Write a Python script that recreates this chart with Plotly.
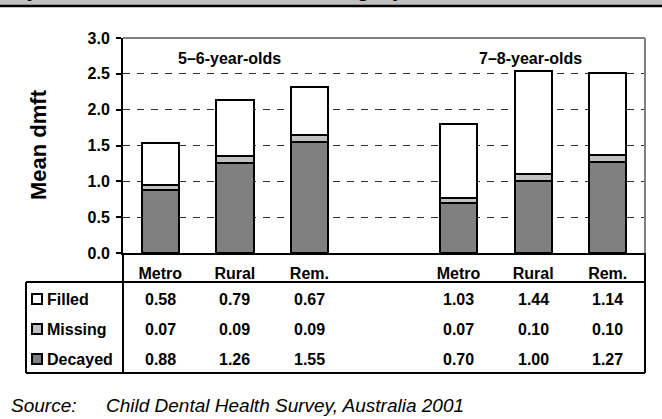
import plotly.graph_objects as go

# ---- data ----
groups = ["5–6-year-olds", "7–8-year-olds"]
locations = ["Metro", "Rural", "Rem."]
filled = [0.58, 0.79, 0.67, 1.03, 1.44, 1.14]
missing = [0.07, 0.09, 0.09, 0.07, 0.10, 0.10]
decayed = [0.88, 1.26, 1.55, 0.70, 1.00, 1.27]
series_names = ["Filled", "Missing", "Decayed"]
series_vals = [filled, missing, decayed]
series_colors = ["#ffffff", "#c0c0c0", "#808080"]
y_ticks = [0.0, 0.5, 1.0, 1.5, 2.0, 2.5, 3.0]
source_label = "Source:"
source_text = "Child Dental Health Survey, Australia 2001"
title_text = "Mean dmft by tooth status and location category"

# x index: each age group gets 3 slots, with an empty slot between groups
xs = [g * (len(locations) + 1) + i for g in range(len(groups)) for i in range(len(locations))]
tick_text = locations * len(groups)

FW, FH = 662, 419
L, R, T, B = 123, 645, 38, 253
W, H = R - L, B - T


def px(x):
    return (x - L) / W


def py(y):
    return (B - y) / H


FONT = "Liberation Sans, Arial, Helvetica, sans-serif"
BOLD = dict(family=FONT, size=16, color="black", weight="bold")

fig = go.Figure()
# stack order bottom -> top: Decayed, Missing, Filled
for name, vals, col in reversed(list(zip(series_names, series_vals, series_colors))):
    fig.add_trace(go.Bar(
        x=xs, y=vals, name=name, width=0.5,
        marker=dict(color=col, line=dict(color="black", width=2)),
        showlegend=False, hoverinfo="skip",
    ))

shapes = []
ann = []

# top gray band + black rule
shapes.append(dict(type="rect", xref="paper", yref="paper", x0=px(0), x1=px(FW), y0=py(-5), y1=py(5),
                   fillcolor="#c0c0c0", line=dict(width=0), layer="below"))
shapes.append(dict(type="line", xref="paper", yref="paper", x0=px(0), x1=px(FW), y0=py(6), y1=py(6),
                   line=dict(color="black", width=2.5)))
ann.append(dict(text=title_text, xref="paper", yref="paper", x=px(407), y=py(3),
                xanchor="right", yanchor="bottom", showarrow=False,
                font=dict(family=FONT, size=22, color="black", weight="bold")))

# plot border (gray top/right)
shapes.append(dict(type="line", xref="paper", yref="paper", x0=px(L), x1=px(R), y0=py(T), y1=py(T),
                   line=dict(color="#808080", width=2)))
shapes.append(dict(type="line", xref="paper", yref="paper", x0=px(R), x1=px(R), y0=py(T), y1=py(B),
                   line=dict(color="#808080", width=2)))

# data table lines
TBL_L, TBL_HDR, TBL_B = 26, 282, 373
for (x0, y0, x1, y1) in [
    (L, B, L, TBL_B),
    (R, B, R, TBL_B),
    (TBL_L, TBL_HDR, TBL_L, TBL_B),
    (TBL_L, TBL_HDR, R, TBL_HDR),
    (TBL_L, TBL_B, R, TBL_B),
]:
    shapes.append(dict(type="line", xref="paper", yref="paper", x0=px(x0), x1=px(x1),
                       y0=py(y0), y1=py(y1), line=dict(color="black", width=2)))

row_y = [299, 329, 359]
for name, vals, col, ry in zip(series_names, series_vals, series_colors, row_y):
    shapes.append(dict(type="rect", xref="paper", yref="paper", x0=px(32), x1=px(42),
                       y0=py(ry - 5), y1=py(ry + 5), fillcolor=col,
                       line=dict(color="black", width=2)))
    ann.append(dict(text=name, xref="paper", yref="paper", x=px(45), y=py(ry),
                    xanchor="left", yanchor="middle", showarrow=False, font=BOLD))
    for xi, v in zip(xs, vals):
        ann.append(dict(text=f"{v:.2f}", xref="x", yref="paper", x=xi, y=py(ry),
                        xanchor="center", yanchor="middle", showarrow=False, font=BOLD))

# group labels
for g, gx in zip(groups, [229, 530]):
    ann.append(dict(text=g, xref="paper", yref="paper", x=px(gx), y=py(58),
                    xanchor="center", yanchor="middle", showarrow=False, font=BOLD))

# y-axis title
ann.append(dict(text="Mean dmft", xref="paper", yref="paper", x=px(38), y=py(145),
                textangle=-90, xanchor="center", yanchor="middle", showarrow=False,
                font=dict(family=FONT, size=22, color="black", weight="bold")))

# source
SRC = dict(family=FONT, size=19, color="black", style="italic")
ann.append(dict(text=source_label, xref="paper", yref="paper", x=px(9), y=py(405),
                xanchor="left", yanchor="middle", showarrow=False, font=SRC))
ann.append(dict(text=source_text, xref="paper", yref="paper", x=px(104), y=py(405),
                xanchor="left", yanchor="middle", showarrow=False, font=SRC))

fig.update_layout(
    width=FW, height=FH,
    margin=dict(l=L, r=FW - R, t=T, b=FH - B, pad=0),
    paper_bgcolor="white", plot_bgcolor="white",
    barmode="stack", bargap=0,
    shapes=shapes, annotations=ann,
    xaxis=dict(
        range=[-0.5, xs[-1] + 0.5], tickvals=xs, ticktext=tick_text,
        showgrid=False, zeroline=False, showline=True, linecolor="black", linewidth=2,
        ticks="", ticklabelstandoff=5, tickfont=BOLD,
    ),
    yaxis=dict(
        range=[0, 3], tickvals=y_ticks, tickformat=".1f",
        showgrid=True, gridcolor="#333333", gridwidth=1.2, griddash="7px,7px",
        zeroline=False, showline=True, linecolor="black", linewidth=2,
        ticks="outside", ticklen=5, tickwidth=2, tickcolor="black", ticklabelstandoff=3,
        tickfont=BOLD,
    ),
)

fig.write_html("out.html", config={"displayModeBar": False},
               post_script="document.body.style.margin='0';document.body.style.overflow='hidden';")
